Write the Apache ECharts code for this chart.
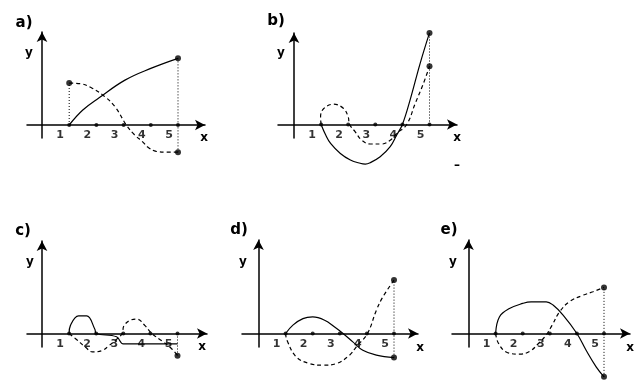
<!DOCTYPE html>
<html>
<head>
<meta charset="utf-8">
<script src="https://cdn.jsdelivr.net/npm/echarts@6.0.0/dist/echarts.min.js"></script>
<style>
  html, body { margin: 0; padding: 0; background: #fff; }
  #chart { width: 639px; height: 381px; }
</style>
</head>
<body>
<div id="chart"></div>
<script>
// Five small graphs, each with a solid curve and a dashed curve over x = 1 … 5.
const panelNames = ['a)', 'b)', 'c)', 'd)', 'e)'];
const tickValues = [1, 2, 3, 4, 5];
const tickLabels = ['1', '2', '3', '4', '5'];

const solidA  = [[1,0],[1.5,0.55],[2.1,1.0],[3.05,1.65],[4,2.08],[5,2.45]];
const dashedA = [[1,1.54],[1.4,1.52],[1.8,1.38],[2.3,1.05],[2.7,0.65],[3.1,0],[3.4,-0.36],[3.7,-0.62],[3.9,-0.82],[4.2,-0.97],[4.6,-1.0],[5,-1.0]];

const solidB  = [[1,0],[1.17,-0.39],[1.35,-0.7],[1.71,-1.07],[2.08,-1.31],[2.44,-1.43],[2.63,-1.46],[2.81,-1.41],[3.18,-1.19],[3.55,-0.82],[3.79,-0.39],[4,0],[4.28,0.89],[4.65,2.24],[5,3.38]];
const dashedB = [[1,0],[0.98,0.28],[1.1,0.59],[1.46,0.75],[1.83,0.59],[2.0,0.28],[2.05,0],[2.26,-0.27],[2.5,-0.58],[2.81,-0.72],[3.24,-0.72],[3.55,-0.58],[3.79,-0.33],[4.16,0],[4.47,0.77],[4.77,1.5],[5,2.15]];

const solidC  = [[1,0],[1.05,0.3],[1.35,0.65],[1.65,0.65],[1.95,0.16],[2,0],[2.75,-0.12],[3,-0.38],[5,-0.38]];
const dashedC = [[1,0],[1.25,-0.2],[1.61,-0.51],[1.86,-0.68],[2.22,-0.63],[2.47,-0.45],[2.77,-0.2],[2.96,0],[3.02,0.28],[3.26,0.49],[3.5,0.53],[3.81,0.28],[4.05,0],[4.42,-0.27],[4.79,-0.57],[5,-0.82]];

const solidD  = [[1,0],[1.27,0.31],[1.64,0.55],[2.0,0.61],[2.44,0.49],[2.81,0.24],[3.12,0],[3.48,-0.31],[3.85,-0.62],[4.35,-0.8],[5,-0.89]];
const dashedD = [[1,0],[1.05,-0.25],[1.39,-0.86],[1.88,-1.11],[2.38,-1.17],[2.87,-1.11],[3.36,-0.8],[3.61,-0.49],[4.02,0],[4.35,0.86],[4.59,1.35],[5,1.97]];

const solidE  = [[1,0],[1.14,0.61],[1.51,0.92],[2.0,1.11],[2.31,1.17],[2.87,1.17],[3.12,1.05],[3.49,0.68],[4.0,0],[4.34,-0.62],[4.71,-1.23],[5,-1.6]];
const dashedE = [[1,0],[1.1,-0.35],[1.39,-0.68],[1.89,-0.76],[2.26,-0.66],[2.6,-0.35],[2.85,-0.08],[3.08,0.3],[3.36,0.8],[3.73,1.18],[4.22,1.41],[4.59,1.54],[5,1.7]];

const solids  = [solidA, solidB, solidC, solidD, solidE];
const dashes  = [dashedA, dashedB, dashedC, dashedD, dashedE];

const last = arr => arr[arr.length - 1];

// Dotted drop lines and end markers, taken from the curve ends.
const dropLines = [
  [[[1, 0], dashedA[0]], [last(solidA), last(dashedA)]],
  [[[5, 0], last(solidB)]],
  [[[5, 0], last(dashedC)]],
  [[last(solidD), last(dashedD)]],
  [[last(solidE), last(dashedE)]]
];
const endDots = [
  [dashedA[0], last(solidA), last(dashedA)],
  [last(solidB), last(dashedB)],
  [last(dashedC)],
  [last(solidD), last(dashedD)],
  [last(solidE), last(dashedE)]
];

// Frame of each small graph: origin pixel, pixels per unit, axis extents (arrow tips).
const frames = [
  { ox: 42,    oy: 125,   u: 27.2, xl: 27,  xr: 210, yt: 27,  yb: 138, name: [24, 23],  xn: [204, 138], yn: [29, 53] },
  { ox: 294,   oy: 124.5, u: 27.1, xl: 278, xr: 462, yt: 28,  yb: 138, name: [276, 21], xn: [457, 138], yn: [281, 53] },
  { ox: 42,    oy: 333.5, u: 27.1, xl: 27,  xr: 212, yt: 236, yb: 347, name: [23, 231], xn: [202, 347], yn: [30, 262] },
  { ox: 258.5, oy: 333.5, u: 27.1, xl: 242, xr: 423, yt: 235, yb: 347, name: [239, 230], xn: [420, 348], yn: [243, 262] },
  { ox: 468.5, oy: 333.5, u: 27.1, xl: 452, xr: 635, yt: 235, yb: 347, name: [449, 230], xn: [630, 348], yn: [453, 262] }
];

const ARROW = 5; // half of the arrow length along the axis
const axisLine = {
  onZero: true,
  symbol: ['none', 'arrow'],
  symbolSize: [8, 10],
  lineStyle: { color: '#000', width: 1.5 }
};

const grid = [], xAxis = [], yAxis = [], series = [], graphic = [];
const font = '"DejaVu Sans", sans-serif';

frames.forEach((f, i) => {
  const top = f.yt + ARROW, right = f.xr - ARROW;
  grid.push({ left: f.xl, top: top, width: right - f.xl, height: f.yb - top });
  xAxis.push({
    gridIndex: i, type: 'value',
    min: (f.xl - f.ox) / f.u, max: (right - f.ox) / f.u,
    axisLine: axisLine, axisTick: { show: false }, axisLabel: { show: false }, splitLine: { show: false }
  });
  yAxis.push({
    gridIndex: i, type: 'value',
    min: (f.oy - f.yb) / f.u, max: (f.oy - top) / f.u,
    axisLine: axisLine, axisTick: { show: false }, axisLabel: { show: false }, splitLine: { show: false }
  });

  const common = { xAxisIndex: i, yAxisIndex: i, silent: true, clip: false };
  series.push(Object.assign({
    type: 'line', data: solids[i], smooth: 0.4, symbol: 'none',
    lineStyle: { color: '#000', width: 1.2 }
  }, common));
  series.push(Object.assign({
    type: 'line', data: dashes[i], smooth: 0.4, symbol: 'none',
    lineStyle: { color: '#000', width: 1.2, type: [4, 3] }
  }, common));
  dropLines[i].forEach(seg => {
    series.push(Object.assign({
      type: 'line', data: seg, symbol: 'none',
      lineStyle: { color: '#000', width: 1, type: [1, 2] }
    }, common));
  });
  series.push(Object.assign({
    type: 'scatter', data: tickValues.map(v => [v, 0]), symbol: 'circle', symbolSize: 4,
    itemStyle: { color: '#000' },
    label: {
      show: true, position: 'bottom', distance: 3, offset: [-9, 0],
      formatter: p => tickLabels[p.dataIndex],
      color: '#000', fontFamily: font, fontWeight: 'bold', fontSize: 11
    }
  }, common));
  series.push(Object.assign({
    type: 'scatter', data: endDots[i], symbol: 'circle', symbolSize: 6,
    itemStyle: { color: '#000' }
  }, common));

  graphic.push({ type: 'text', x: f.name[0], y: f.name[1],
    style: { text: panelNames[i], fill: '#000', font: 'bold 15px ' + font, align: 'center', verticalAlign: 'middle' } });
  graphic.push({ type: 'text', x: f.xn[0], y: f.xn[1],
    style: { text: 'x', fill: '#000', font: 'bold 12px ' + font, align: 'center', verticalAlign: 'middle' } });
  graphic.push({ type: 'text', x: f.yn[0], y: f.yn[1],
    style: { text: 'y', fill: '#000', font: 'bold 12px ' + font, align: 'center', verticalAlign: 'middle' } });
});

graphic.push({ type: 'text', x: 457, y: 166,
  style: { text: '–', fill: '#000', font: 'bold 12px ' + font, align: 'center', verticalAlign: 'middle' } });

const chart = echarts.init(document.getElementById('chart'), null, { renderer: 'canvas' });
chart.setOption({
  animation: false,
  backgroundColor: '#fff',
  grid: grid,
  xAxis: xAxis,
  yAxis: yAxis,
  series: series,
  graphic: graphic
});
</script>
</body>
</html>
